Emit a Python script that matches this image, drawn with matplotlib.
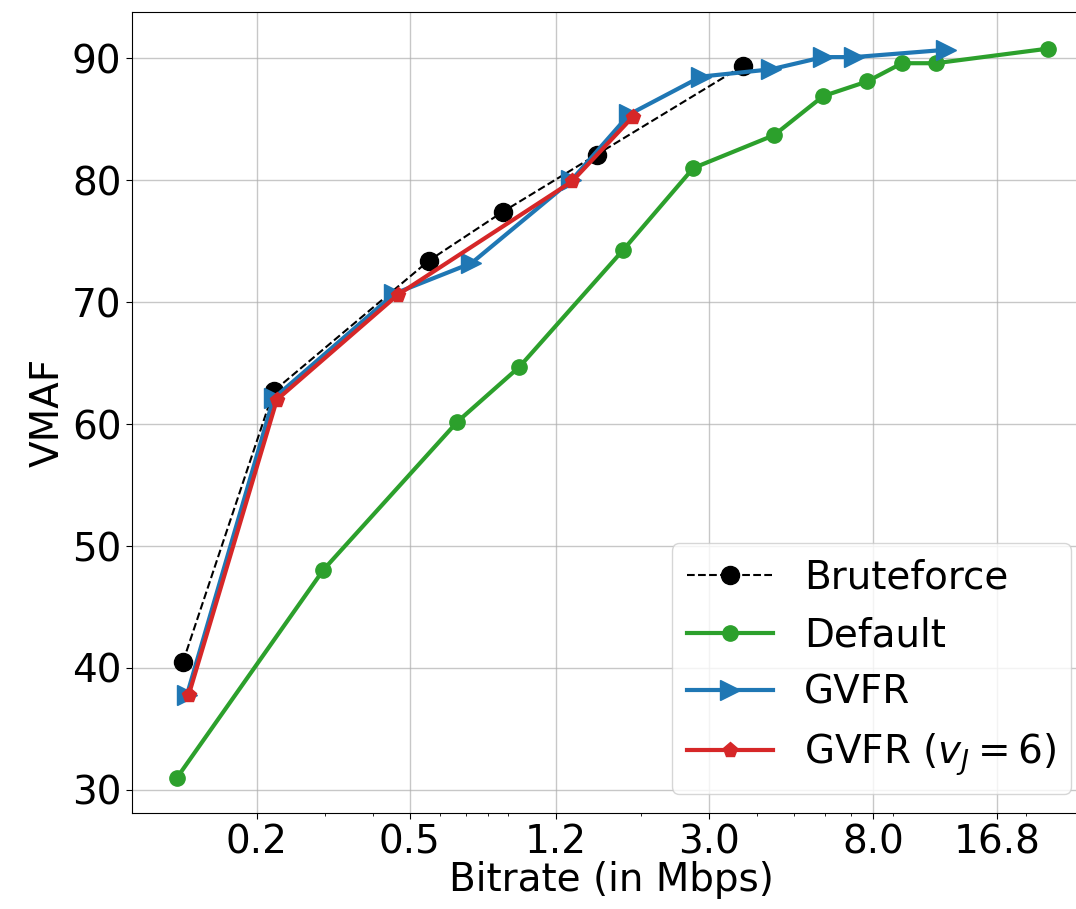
import matplotlib
matplotlib.use("Agg")
import matplotlib.pyplot as plt
from matplotlib.ticker import FixedLocator, FixedFormatter, NullFormatter

# Data (bitrate in Mbps, VMAF)
brute_x = [0.1285, 0.221, 0.56, 0.871, 1.53, 3.68]
brute_y = [40.5, 62.7, 73.4, 77.4, 82.1, 89.4]

default_x = [0.124, 0.298, 0.665, 0.964, 1.796, 2.73, 4.43, 5.94, 7.73, 9.53, 11.67, 22.9]
default_y = [31.0, 48.05, 60.2, 64.7, 74.3, 81.0, 83.7, 86.9, 88.1, 89.6, 89.6, 90.8]

gvfr_x = [0.1316, 0.221, 0.456, 0.723, 1.316, 1.86, 2.86, 4.35, 5.94, 7.15, 12.4]
gvfr_y = [37.8, 62.1, 70.7, 73.2, 80.0, 85.4, 88.5, 89.1, 90.1, 90.1, 90.7]

gvfr6_x = [0.133, 0.2255, 0.465, 1.32, 1.90]
gvfr6_y = [37.8, 62.0, 70.6, 79.9, 85.2]

xticks = [0.2, 0.5, 1.2, 3.0, 8.0, 16.8]
xtick_labels = ["0.2", "0.5", "1.2", "3.0", "8.0", "16.8"]
yticks = [30, 40, 50, 60, 70, 80, 90]

fig = plt.figure(figsize=(10.76, 9.09), dpi=100)
ax = fig.add_axes([0.1227, 0.1056, 0.891, 0.8812])

ax.plot(brute_x, brute_y, color="black", linestyle="--", linewidth=1.5,
        marker="o", markersize=13, label="Bruteforce", zorder=3)
ax.plot(default_x, default_y, color="#2ca02c", linewidth=3,
        marker="o", markersize=11, label="Default", zorder=3)
ax.plot(gvfr_x, gvfr_y, color="#1f77b4", linewidth=3,
        marker=">", markersize=14, label="GVFR", zorder=3)
ax.plot(gvfr6_x, gvfr6_y, color="#d62728", linewidth=3,
        marker="p", markersize=11, label=r"GVFR ($v_J=6$)", zorder=4)

ax.set_xscale("log")
ax.set_xlim(0.0947, 29.5)
ax.set_ylim(28.1, 93.8)
ax.xaxis.set_major_locator(FixedLocator(xticks))
ax.xaxis.set_major_formatter(FixedFormatter(xtick_labels))
ax.xaxis.set_minor_formatter(NullFormatter())
ax.set_yticks(yticks)

ax.tick_params(axis="both", which="major", labelsize=28, length=4)
ax.grid(True, which="major", color="#b0b0b0", linewidth=1.0, alpha=0.7)

ax.set_xlabel("Bitrate (in Mbps)", fontsize=28, labelpad=0)
ax.set_ylabel("VMAF", fontsize=28, labelpad=4)

ax.legend(loc="lower right", fontsize=28, framealpha=0.8, borderpad=0.4,
          handlelength=2.2)

fig.savefig("out.png", dpi=100)
